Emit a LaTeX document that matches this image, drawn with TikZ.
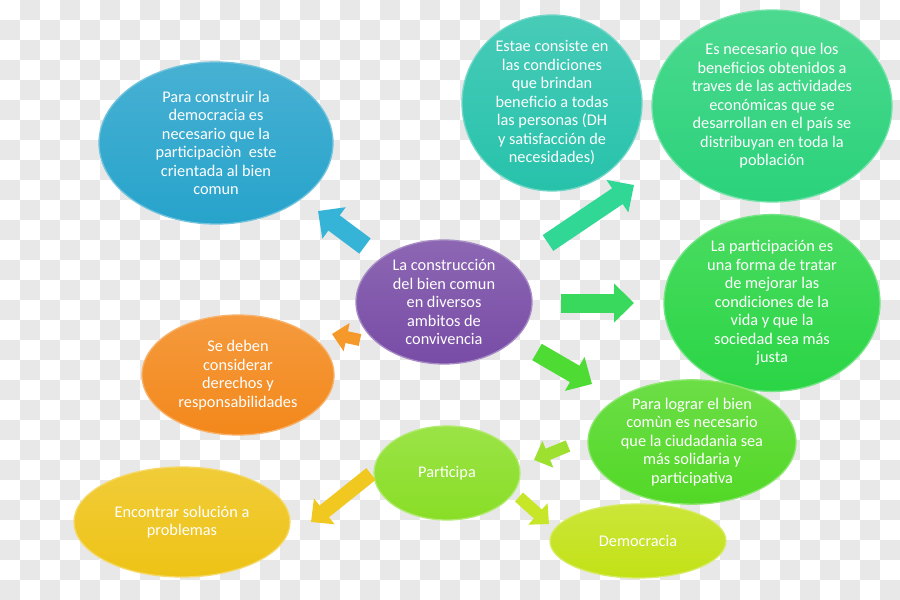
\documentclass[tikz,border=0pt]{standalone}
\usepackage{fontspec}
\setmainfont{Carlito}
\usetikzlibrary{shapes.geometric,arrows.meta}
\definecolor{chk}{HTML}{E8E8E8}
\definecolor{cblue}{HTML}{27A3CB}
\definecolor{cteal}{HTML}{27C2AB}
\definecolor{cgreenA}{HTML}{2BD27B}
\definecolor{cgreenB}{HTML}{2AD545}
\definecolor{cgreenC}{HTML}{52D826}
\definecolor{cdemo}{HTML}{C3E116}
\definecolor{cpart}{HTML}{89DE26}
\definecolor{cyel}{HTML}{EEC316}
\definecolor{corange}{HTML}{F3881B}
\definecolor{cpurp}{HTML}{784CA6}
\definecolor{abluec}{HTML}{36B4D8}
\definecolor{atealc}{HTML}{30D795}
\definecolor{agreenc}{HTML}{38D95C}
\definecolor{agreend}{HTML}{4EDC34}
\definecolor{aorange}{HTML}{F59A2A}
\definecolor{alime}{HTML}{9EE030}
\definecolor{ayg}{HTML}{C8E628}
\definecolor{ayel}{HTML}{F0C820}
\tikzset{
  bub/.style={ellipse, inner sep=0pt, text=white, align=center,
    font=\fontsize{16.3}{18.5}\selectfont,
    top color=#1!85!white, bottom color=#1, draw=#1!65!white, line width=1.3pt},
  bigarrow/.style={line width=19pt, draw=#1, -{Triangle[width=38pt,length=20pt]}},
  midarrow/.style={line width=15pt, draw=#1, -{Triangle[width=32pt,length=17pt]}},
  smallarrow/.style={line width=12pt, draw=#1, -{Triangle[width=28pt,length=15pt]}}
}
\begin{document}
\begin{tikzpicture}[x=1pt,y=-1pt]
\useasboundingbox (0,0) rectangle (900,600);
\fill[white] (0,0) rectangle (900,600);
\foreach \j in {0,...,29}{
  \foreach \i in {0,2,...,44}{
    \fill[chk] ({\i*20+mod(\j+1,2)*20},{\j*20}) rectangle ++(20,20);
  }
}
% nodes
\node[bub=cblue, minimum width=234pt, minimum height=162pt] (blue) at (216,143)
  {Para construir la\\democracia es\\necesario que la\\participaciòn~ este\\crientada al bien\\comun};
\node[bub=cteal, minimum width=180pt, minimum height=150pt] (teal) at (552,103)
  {Estae consiste en\\las condiciones\\que brindan\\beneficio a todas\\las personas (DH\\y satisfacción de\\necesidades)};
\node[bub=cgreenA, minimum width=240pt, minimum height=192pt] (greenA) at (772,106)
  {Es necesario que los\\beneficios obtenidos a\\traves de las actividades\\económicas que se\\desarrollan en el país se\\distribuyan en toda la\\población};
\node[bub=cgreenB, minimum width=216pt, minimum height=170pt] (greenB) at (772,303)
  {La participación es\\una forma de tratar\\de mejorar las\\condiciones de la\\vida y que la\\sociedad sea más\\justa};
\node[bub=cgreenC, minimum width=208pt, minimum height=120pt] (greenC) at (692,442)
  {Para lograr el bien\\comùn es necesario\\que la ciudadania sea\\más solidaria y\\participativa};
\node[bub=cdemo, minimum width=176pt, minimum height=74pt] (demo) at (638,541) {Democracia};
\node[bub=cpart, minimum width=146pt, minimum height=94pt] (part) at (447,473) {Participa};
\node[bub=cyel, minimum width=216pt, minimum height=110pt] (encontrar) at (182,522)
  {Encontrar solución a\\problemas};
\node[bub=corange, minimum width=192pt, minimum height=120pt] (orange) at (238,375)
  {Se deben\\considerar\\derechos y\\responsabilidades};
\node[bub=cpurp, minimum width=176pt, minimum height=124pt] (center) at (444,302)
  {La construcción\\del bien comun\\en diversos\\ambitos de\\convivencia};
% arrow end points
\coordinate (a1s) at (365,246); \coordinate (a1e) at (318,211);
\coordinate (a2s) at (548,243); \coordinate (a2e) at (634,185);
\coordinate (a3s) at (561,303); \coordinate (a3e) at (634,303);
\coordinate (a4s) at (537,352); \coordinate (a4e) at (592,384);
\coordinate (a5s) at (360,340); \coordinate (a5e) at (332,334);
\coordinate (a6s) at (568,446); \coordinate (a6e) at (534,460);
\coordinate (a7s) at (519,497); \coordinate (a7e) at (549,524);
\coordinate (a8s) at (371,474); \coordinate (a8e) at (311,522);
\draw[bigarrow=abluec] (a1s) -- (a1e);
\draw[bigarrow=atealc] (a2s) -- (a2e);
\draw[bigarrow=agreenc] (a3s) -- (a3e);
\draw[bigarrow=agreend] (a4s) -- (a4e);
\draw[smallarrow=aorange] (a5s) -- (a5e);
\draw[smallarrow=alime] (a6s) -- (a6e);
\draw[smallarrow=ayg] (a7s) -- (a7e);
\draw[midarrow=ayel] (a8s) -- (a8e);
\end{tikzpicture}
\end{document}
